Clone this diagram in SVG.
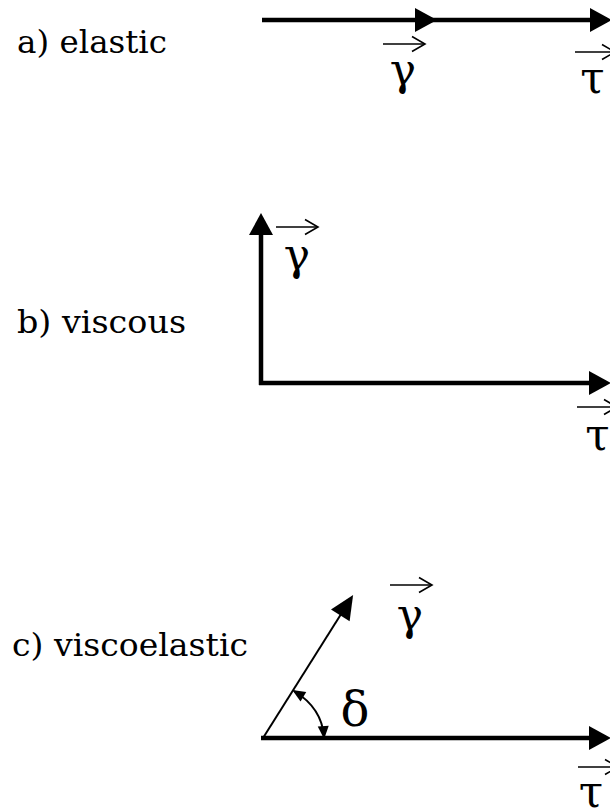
<svg xmlns="http://www.w3.org/2000/svg" width="610" height="809" viewBox="0 0 610 809">
<style>
.lbl{font-size:32px;fill:#000}
.gk{font-size:44px;fill:#000;text-anchor:middle}
.thick{stroke:#000;stroke-width:4.5;fill:none;marker-end:url(#big)}
.thin{stroke:#000;stroke-width:2;fill:none}
.vec{stroke:#000;stroke-width:1.6;fill:none;marker-end:url(#chev)}
</style>
<defs>
<marker id="big" markerUnits="userSpaceOnUse" markerWidth="22" markerHeight="24" viewBox="0 0 22 24" refX="17" refY="12" orient="auto" overflow="visible"><path d="M0 0L22 12L0 24z" fill="#000"/></marker>
<marker id="mid" markerUnits="userSpaceOnUse" markerWidth="24" markerHeight="22" viewBox="0 0 24 22" refX="21" refY="11" orient="auto" overflow="visible"><path d="M0 0L24 11L0 22z" fill="#000"/></marker>
<marker id="small" markerUnits="userSpaceOnUse" markerWidth="13" markerHeight="11" viewBox="0 0 13 11" refX="11" refY="5.5" orient="auto-start-reverse" overflow="visible"><path d="M0 0L13 5.5L0 11z" fill="#000"/></marker>
<marker id="chev" markerUnits="userSpaceOnUse" markerWidth="14" markerHeight="16" viewBox="0 0 14 16" refX="13" refY="8" orient="auto" overflow="visible"><path d="M0 0.5L13 8L0 15.5" fill="none" stroke="#000" stroke-width="1.6"/></marker>
</defs>

<g font-family="'DejaVu Serif', serif">
<g id="label-a"><text class="lbl" x="17" y="53" textLength="150" lengthAdjust="spacingAndGlyphs">a) elastic</text></g>
<g id="label-b"><text class="lbl" x="17" y="333" textLength="169" lengthAdjust="spacingAndGlyphs">b) viscous</text></g>
<g id="label-c"><text class="lbl" x="12" y="656" textLength="236" lengthAdjust="spacingAndGlyphs">c) viscoelastic</text></g>
</g>

<g id="connectors">
<line class="thick" x1="262" y1="20" x2="432" y2="20"/>
<line class="thick" x1="430" y1="20" x2="607" y2="20"/>
<line class="thick" x1="261" y1="385" x2="261" y2="218"/>
<line class="thick" x1="259" y1="383" x2="606" y2="383"/>
<line class="thick" x1="261" y1="738" x2="606" y2="738"/>
<line class="thin" x1="263" y1="738" x2="351.5" y2="597.5" style="marker-end:url(#mid)"/>
<path class="thin" d="M294 691Q322 708 324 737" style="marker-start:url(#small);marker-end:url(#small)"/>
</g>

<g font-family="'DejaVu Serif', serif">
<g id="gamma-a"><line class="vec" x1="383" y1="44" x2="425" y2="44"/><text class="gk" x="403" y="85">γ</text></g>
<g id="tau-a"><line class="vec" x1="575" y1="52" x2="615" y2="52"/><text class="gk" x="592.5" y="93">τ</text></g>
<g id="gamma-b"><line class="vec" x1="276" y1="227" x2="318" y2="227"/><text class="gk" x="297" y="270">γ</text></g>
<g id="tau-b"><line class="vec" x1="577" y1="407" x2="617" y2="407"/><text class="gk" x="597.5" y="450">τ</text></g>
<g id="gamma-c"><line class="vec" x1="390" y1="585" x2="432" y2="585"/><text class="gk" x="410" y="630">γ</text></g>
<g id="tau-c"><line class="vec" x1="578" y1="767" x2="618" y2="767"/><text class="gk" x="591" y="807">τ</text></g>
<g id="delta"><text class="gk" x="355" y="726" style="font-size:48px">δ</text></g>
</g>
</svg>
